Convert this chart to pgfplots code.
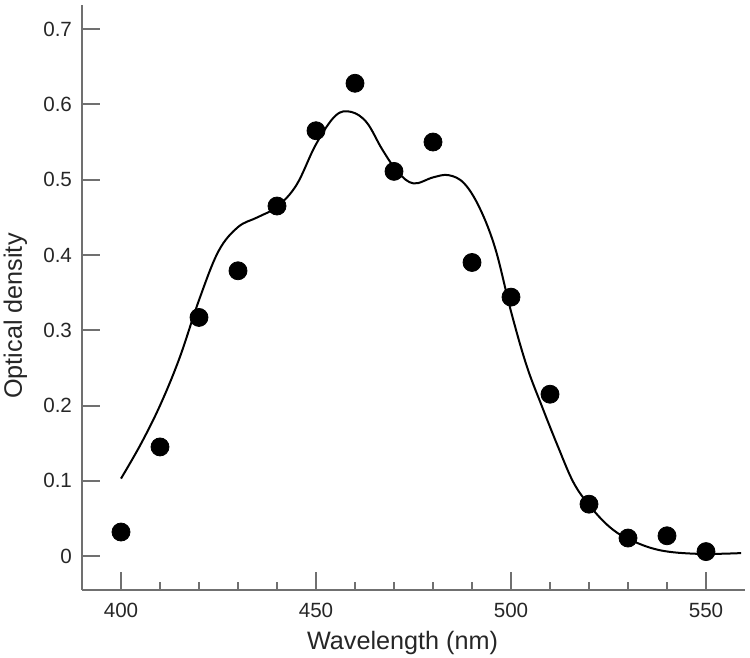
\documentclass[border=0pt]{standalone}
\usepackage{fontspec}
\setmainfont{Liberation Sans}
\usepackage{pgfplots}
\pgfplotsset{compat=1.18}
\definecolor{axgray}{RGB}{112,112,112}
\begin{document}
\begin{tikzpicture}
\begin{axis}[
  scale only axis, width=331.5pt, height=292.5pt,
  xmin=390, xmax=560, ymin=-0.045, ymax=0.732,
  axis x line=bottom, axis y line=left,
  axis line style={-, axgray, line width=1pt},
  tick align=inside,
  xtick={400,450,500,550},
  minor xtick={410,420,430,440,460,470,480,490,510,520,530,540},
  ytick={0,0.1,0.2,0.3,0.4,0.5,0.6,0.7},
  yticklabels={0,0.1,0.2,0.3,0.4,0.5,0.6,0.7},
  major tick length=9pt, minor tick length=4pt,
  every tick/.style={axgray, line width=1pt},
  /pgf/number format/assume math mode=true,
  tick label style={font=\fontsize{10.3}{12}\selectfont, black!85},
  xticklabel style={yshift=-3pt},
  yticklabel style={xshift=-1.5pt},
  label style={font=\fontsize{12.6}{14}\selectfont, black!85, inner sep=0pt},
  xlabel={Wavelength (nm)},
  ylabel={Optical density},
  xlabel style={at={(axis description cs:0.5,0)}, anchor=base, yshift=-30pt, xshift=-5.5pt},
  ylabel style={at={(axis description cs:0,0.5)}, anchor=base, xshift=-9.25pt, yshift=30pt},
]
\addplot[black, line width=1pt, smooth, tension=0.6] coordinates {
(400,0.103) (405,0.148) (410,0.200) (415,0.263) (420,0.340) (425,0.405)
(430,0.437) (435,0.450) (440,0.464) (445,0.493) (450,0.547) (455,0.585)
(459,0.590) (463,0.576) (467,0.540) (471,0.510) (475,0.495) (480,0.503)
(484,0.506) (488,0.495) (492,0.462) (496,0.408) (500,0.325) (504,0.253)
(508,0.198) (512,0.146) (516,0.098) (520,0.068) (525,0.040) (530,0.023)
(538,0.008) (548,0.003) (559,0.004)
};
\addplot[only marks, mark=*, mark size=4.5pt, black] coordinates {
(400,0.032) (410,0.145) (420,0.317) (430,0.379) (440,0.465) (450,0.565)
(460,0.628) (470,0.511) (480,0.550) (490,0.390) (500,0.344) (510,0.215)
(520,0.069) (530,0.024) (540,0.027) (550,0.006)
};
\end{axis}
\path ([xshift=-41pt,yshift=-34pt]current axis.south west) rectangle ([xshift=2.5pt,yshift=2.5pt]current axis.north east);
\end{tikzpicture}
\end{document}
